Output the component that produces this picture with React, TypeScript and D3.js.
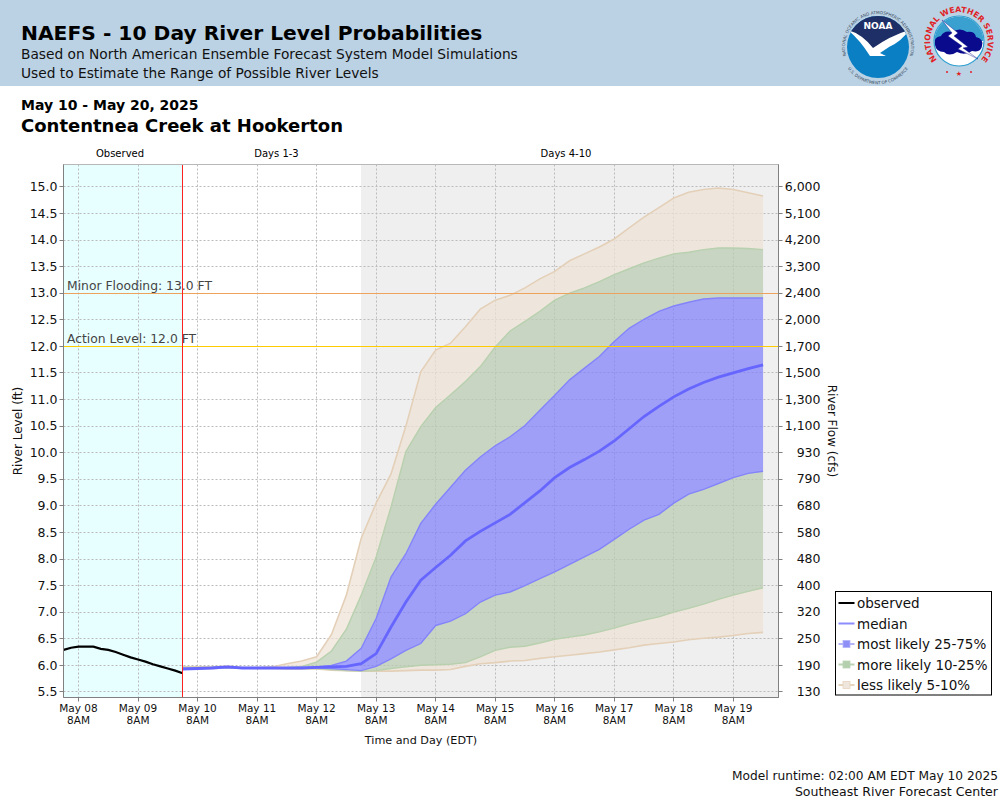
import React from "react";
import * as d3 from "d3";

const START_HOURS = 42; // forecast begins May 10 02:00, hours after May 08 08:00
const STEP_HOURS = 6;
const OBS_STEP_HOURS = 3;

const observed = [6.29,6.33,6.35,6.35,6.35,6.31,6.29,6.25,6.2,6.15,6.11,6.07,6.02,5.98,5.94,5.9,5.85];
const p95 = [5.97,5.97,5.97,5.98,5.96,5.96,5.97,6.03,6.08,6.16,6.58,7.32,8.39,9.05,9.6,10.5,11.52,11.93,12.06,12.37,12.7,12.87,12.96,13.1,13.27,13.41,13.61,13.74,13.87,14.02,14.23,14.43,14.61,14.79,14.9,14.95,14.98,14.95,14.89,14.83];
const p90 = [5.96,5.96,5.96,5.97,5.95,5.95,5.95,5.96,5.98,6.06,6.27,6.68,7.32,8.04,8.98,10.02,10.49,10.85,11.09,11.34,11.62,11.99,12.29,12.47,12.66,12.87,13.0,13.1,13.22,13.35,13.46,13.57,13.66,13.74,13.77,13.82,13.85,13.85,13.84,13.82];
const p75 = [5.95,5.95,5.96,5.97,5.95,5.95,5.95,5.95,5.96,5.97,6.0,6.08,6.32,6.88,7.66,8.1,8.67,9.03,9.35,9.67,9.92,10.13,10.3,10.51,10.8,11.08,11.37,11.59,11.81,12.09,12.34,12.51,12.66,12.76,12.83,12.89,12.91,12.91,12.91,12.91];
const median = [5.93,5.94,5.95,5.97,5.95,5.95,5.95,5.95,5.95,5.96,5.97,5.98,6.03,6.22,6.72,7.19,7.6,7.84,8.07,8.34,8.52,8.68,8.84,9.06,9.28,9.53,9.72,9.87,10.03,10.22,10.45,10.68,10.87,11.05,11.2,11.32,11.42,11.5,11.58,11.65];
const p25 = [5.93,5.94,5.95,5.96,5.95,5.95,5.95,5.95,5.95,5.95,5.94,5.92,5.9,5.98,6.12,6.28,6.41,6.75,6.83,6.97,7.19,7.32,7.38,7.5,7.63,7.76,7.9,8.04,8.18,8.37,8.56,8.73,8.84,9.05,9.22,9.31,9.42,9.53,9.61,9.65];
const p10 = [5.93,5.94,5.95,5.96,5.95,5.95,5.95,5.94,5.94,5.94,5.92,5.9,5.89,5.9,5.94,5.97,6.0,6.01,6.02,6.05,6.16,6.28,6.34,6.36,6.42,6.49,6.53,6.57,6.63,6.7,6.78,6.85,6.91,7.0,7.07,7.15,7.24,7.32,7.39,7.46];
const p5 = [5.93,5.93,5.94,5.95,5.95,5.94,5.94,5.93,5.93,5.93,5.91,5.9,5.89,5.89,5.89,5.9,5.91,5.91,5.92,5.98,6.03,6.05,6.08,6.09,6.13,6.16,6.19,6.22,6.25,6.29,6.33,6.38,6.41,6.44,6.48,6.51,6.53,6.56,6.6,6.62];

const stageTicks = [15,14.5,14,13.5,13,12.5,12,11.5,11,10.5,10,9.5,9,8.5,8,7.5,7,6.5,6,5.5];
const flowLabels = ["6,000","5,100","4,200","3,300","2,400","2,000","1,700","1,500","1,300","1,100","930","790","680","580","480","400","320","250","190","130"];
const dayLabels = ["May 08","May 09","May 10","May 11","May 12","May 13","May 14","May 15","May 16","May 17","May 18","May 19"];

const FONT = "'DejaVu Sans', sans-serif";
const L = 63.5, R = 778.5, T = 164.5, B = 697.5;

const x = d3.scaleLinear().domain([0, 264]).range([78.5, 733.3]);
const y = d3.scaleLinear().domain([15, 5.5]).range([186.9, 691.9]);
const snap = (v: number) => Math.floor(v) + 0.5;
const fx = (i: number) => x(START_HOURS + i * STEP_HOURS);

const band = (hi: number[], lo: number[]) =>
  d3.area<number>().x((_, i) => fx(i)).y0((_, i) => y(lo[i])).y1((_, i) => y(hi[i]))(hi) || "";
const edge = (v: number[]) => d3.line<number>().x((_, i) => fx(i)).y((d) => y(d))(v) || "";
const obsPath = d3.line<number>().x((_, i) => x(START_HOURS - (observed.length - 1 - i) * OBS_STEP_HOURS)).y((d) => y(d))(observed) || "";

const TAN = "rgb(238,226,212)", GREEN = "rgb(183,203,175)", BLUE = "rgb(126,126,252)";
const TAN_E = "rgb(228,208,184)", GREEN_E = "rgb(184,208,174)", BLUE_E = "rgb(132,132,250)";
const legend = [
  { label: "observed", color: "#000", box: null },
  { label: "median", color: "#8c8cff", box: null },
  { label: "most likely 25-75%", color: "#b4b4fb", box: "#8f8ff8" },
  { label: "more likely 10-25%", color: "#b9d3b3", box: "#b4cfae" },
  { label: "less likely 5-10%", color: "#e6d4bd", box: "#efe7dd" },
];

function Logos() {
  return (
    <g>
      <defs>
        <path id="noaaTop" d="M 847 58.3 A 33 33 0 1 1 909 58.3" />
        <path id="noaaBot" d="M 844.5 63 A 37 37 0 0 0 911.5 63" />
        <path id="nwsTop" d="M 941 63.5 A 28.8 28.8 0 1 1 977 63.5" />
        <clipPath id="noaaClip"><circle cx={878} cy={47} r={31} /></clipPath>
      </defs>
      <circle cx={878} cy={47} r={31} fill="#0a7fc4" />
      <g clipPath="url(#noaaClip)">
        <path d="M 846 14 H 910 V 33 Q 890 38 873 50 Q 862 38 846 30 Z" fill="#1d2f66" />
        <path d="M 848 30 Q 862 34 873 48 Q 890 36 909 30 Q 902 41 889 47 L 880 53 L 886 56 L 870 56 Q 860 40 848 30 Z" fill="#fff" />
      </g>
      <text x={878} y={29} textAnchor="middle" fontFamily={FONT} fontWeight="bold" fontSize={9} fill="#fff">NOAA</text>
      <text fontFamily={FONT} fontSize={4.2} fill="#3a4a5c">
        <textPath href="#noaaTop" startOffset="50%" textAnchor="middle">NATIONAL OCEANIC AND ATMOSPHERIC ADMINISTRATION</textPath>
      </text>
      <text fontFamily={FONT} fontSize={4.2} fill="#3a4a5c">
        <textPath href="#noaaBot" startOffset="50%" textAnchor="middle">U.S. DEPARTMENT OF COMMERCE</textPath>
      </text>

      <circle cx={959} cy={41} r={25} fill="#fff" stroke="#2f9fd0" strokeWidth={1.2} />
      <path d="M 934.5 41 A 24.5 24.5 0 0 1 983.5 41 Z" fill="#3aa0d0" />
      <path d="M 935 45 Q 933 37 941 36 Q 944 30 952 32 Q 960 27 967 32 Q 975 31 976 37 Q 984 39 982 46 Q 981 53 972 51 Q 965 56 957 52 Q 949 57 944 52 Q 936 52 935 45 Z" fill="#0a0a8c" />
      <path d="M 942 20 L 958 33 L 954 36 L 968 47 L 963 48 L 978 59 L 958 49 L 962 46 L 948 36 L 952 33 Z" fill="#fff" stroke="#0a0a8c" strokeWidth={0.4} />
      <text fontFamily={FONT} fontWeight="bold" fontSize={7.9} fill="#e01f26">
        <textPath href="#nwsTop" startOffset="50%" textAnchor="middle">NATIONAL WEATHER SERVICE</textPath>
      </text>
      <circle cx={947} cy={72} r={1} fill="#e01f26" />
      <circle cx={971} cy={72} r={1} fill="#e01f26" />
      <text x={959} y={76} textAnchor="middle" fontSize={7} fill="#e01f26" fontFamily={FONT}>★</text>
    </g>
  );
}

export default function App() {
  const xTickHours = dayLabels.map((_, i) => i * 24);
  const shadeL = 361;
  const startX = 182.5;
  return (
    <svg width={1000} height={800} style={{ position: "absolute", left: 0, top: 0, display: "block" }} fontFamily={FONT}>
      <rect width={1000} height={800} fill="#fff" />
      <rect width={1000} height={86} fill="#bbd2e5" />
      <text x={21} y={40} fontSize={20.25} fontWeight="bold" fill="#000">NAEFS - 10 Day River Level Probabilities</text>
      <text x={21} y={59} fontSize={13.75} fill="#111">Based on North American Ensemble Forecast System Model Simulations</text>
      <text x={21} y={78} fontSize={13.75} fill="#111">Used to Estimate the Range of Possible River Levels</text>
      <Logos />
      <text x={21} y={110} fontSize={14} fontWeight="bold" fill="#000">May 10 - May 20, 2025</text>
      <text x={21} y={132} fontSize={18} fontWeight="bold" fill="#000">Contentnea Creek at Hookerton</text>

      <text x={120} y={157} textAnchor="middle" fontSize={10} fill="#000">Observed</text>
      <text x={276.5} y={157} textAnchor="middle" fontSize={10} fill="#000">Days 1-3</text>
      <text x={566} y={157} textAnchor="middle" fontSize={10} fill="#000">Days 4-10</text>

      <rect x={L} y={T} width={startX - L} height={B - T} fill="#e8ffff" />
      <rect x={shadeL} y={T} width={R - shadeL} height={B - T} fill="#efefef" />

      {stageTicks.map((t) => (
        <line key={t} x1={L} x2={R} y1={snap(y(t))} y2={snap(y(t))} stroke="#bbbbbb" strokeWidth={1} strokeDasharray="2 2" />
      ))}
      {xTickHours.map((h) => (
        <line key={h} x1={snap(x(h))} x2={snap(x(h))} y1={T} y2={B} stroke="#bbbbbb" strokeWidth={1} strokeDasharray="2 2" />
      ))}

      <path d={band(p95, p90)} fill={TAN} fillOpacity={0.7} />
      <path d={band(p10, p5)} fill={TAN} fillOpacity={0.7} />
      <path d={band(p90, p75)} fill={GREEN} fillOpacity={0.7} />
      <path d={band(p25, p10)} fill={GREEN} fillOpacity={0.7} />
      <path d={band(p75, p25)} fill={BLUE} fillOpacity={0.7} />
      <path d={edge(p95)} fill="none" stroke={TAN_E} strokeWidth={1.6} />
      <path d={edge(p5)} fill="none" stroke={TAN_E} strokeWidth={1.6} />
      <path d={edge(p90)} fill="none" stroke={GREEN_E} strokeWidth={1.4} />
      <path d={edge(p10)} fill="none" stroke={GREEN_E} strokeWidth={1.4} />
      <path d={edge(p75)} fill="none" stroke={BLUE_E} strokeWidth={1.4} />
      <path d={edge(p25)} fill="none" stroke={BLUE_E} strokeWidth={1.4} />

      <line x1={L} x2={R} y1={snap(y(13))} y2={snap(y(13))} stroke="#eda35c" strokeWidth={1} />
      <line x1={L} x2={R} y1={snap(y(12))} y2={snap(y(12))} stroke="#ffcc00" strokeWidth={1} />
      <text x={67} y={289.5} fontSize={12.35} fill="#444">Minor Flooding: 13.0 FT</text>
      <text x={67} y={342.5} fontSize={12.35} fill="#444">Action Level: 12.0 FT</text>

      <path d={edge(median)} fill="none" stroke="#6666ff" strokeWidth={2.8} />
      <path d={obsPath} fill="none" stroke="#000" strokeWidth={2.2} />
      <line x1={startX} x2={startX} y1={T} y2={B} stroke="#ff2020" strokeWidth={1} />

      <rect x={L} y={T} width={R - L} height={B - T} fill="none" stroke="#b8b8b8" strokeWidth={1} />
      <line x1={L} x2={L} y1={T} y2={B} stroke="#808080" strokeWidth={1} />
      <line x1={L} x2={R} y1={B} y2={B} stroke="#808080" strokeWidth={1} />
      <line x1={R} x2={R} y1={T} y2={B} stroke="#808080" strokeWidth={1} />

      {stageTicks.map((t, i) => (
        <g key={t}>
          <line x1={L - 4} x2={L} y1={snap(y(t))} y2={snap(y(t))} stroke="#808080" />
          <line x1={R} x2={R + 4} y1={snap(y(t))} y2={snap(y(t))} stroke="#808080" />
          <text x={L - 6} y={y(t) + 4.2} textAnchor="end" fontSize={12.5} fill="#111">{t.toFixed(1)}</text>
          <text x={R + 42} y={y(t) + 4.2} textAnchor="end" fontSize={12.5} fill="#111">{flowLabels[i]}</text>
        </g>
      ))}
      {xTickHours.map((h, i) => (
        <g key={h}>
          <line x1={snap(x(h))} x2={snap(x(h))} y1={B} y2={B + 4} stroke="#808080" />
          <text x={x(h)} y={712} textAnchor="middle" fontSize={10.5} fill="#111">{dayLabels[i]}</text>
          <text x={x(h)} y={724} textAnchor="middle" fontSize={10.5} fill="#111">8AM</text>
        </g>
      ))}

      <text x={421} y={744} textAnchor="middle" fontSize={11.2} fill="#111">Time and Day (EDT)</text>
      <text transform="translate(22,431) rotate(-90)" textAnchor="middle" fontSize={12} fill="#111">River Level (ft)</text>
      <text transform="translate(828,431) rotate(90)" textAnchor="middle" fontSize={12} fill="#111">River Flow (cfs)</text>

      <rect x={835.5} y={591.5} width={156} height={103.5} fill="#fff" stroke="#000" strokeWidth={1} />
      {legend.map((d, i) => {
        const cy = 603 + i * 20.5;
        return (
          <g key={d.label}>
            <line x1={838.5} x2={854.5} y1={cy} y2={cy} stroke={d.color} strokeWidth={2} />
            {d.box && <rect x={843} y={cy - 3.5} width={7} height={7} fill={d.box} stroke={d.color} strokeWidth={0.8} />}
            <text x={857} y={cy + 5} fontSize={13.5} fill="#111">{d.label}</text>
          </g>
        );
      })}

      <text x={998} y={780} textAnchor="end" fontSize={12.2} fill="#111">Model runtime: 02:00 AM EDT May 10 2025</text>
      <text x={998} y={796} textAnchor="end" fontSize={12.55} fill="#111">Southeast River Forecast Center</text>
    </svg>
  );
}
